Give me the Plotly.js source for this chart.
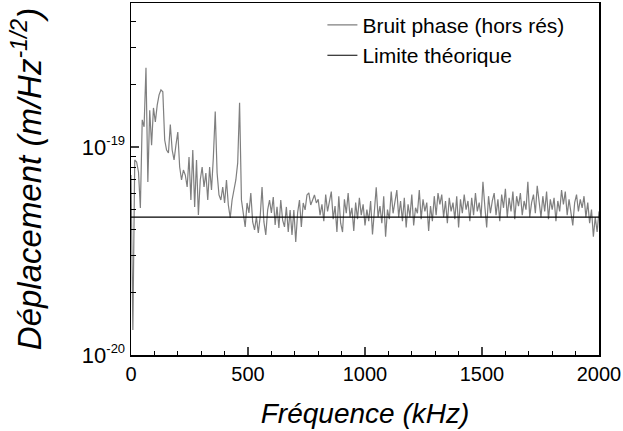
<!DOCTYPE html>
<html>
<head>
<meta charset="utf-8">
<script src="https://cdn.plot.ly/plotly-3.0.1.min.js"></script>
<style>html,body{margin:0;padding:0;background:#fff;}#chart{width:623px;height:431px;}</style>
</head>
<body>
<div id="chart"></div>
<script>
// Frequency grid: first bin and bin step (kHz)
const freqStart = 0;
const freqStep = 8;
// Displacement noise, in units of 1e-20 m/Hz^-1/2
const unit = 1e-20;
const phaseNoise = [
7.33,1.32,8.66,8.47,7.58,5.09,13.5,12.5,24.0,6.79,
15.0,10.2,15.4,13.2,15.9,17.8,18.8,18.4,10.8,9.67,
9.36,12.8,9.67,8.66,10.2,11.8,8.01,6.94,7.75,7.33,
6.42,8.95,5.56,9.67,5.15,8.66,4.71,6.94,8.01,6.42,
7.49,5.56,8.01,6.21,8.95,14.8,7.49,5.88,5.56,6.42,
5.38,6.94,5.26,4.56,5.56,6.21,6.94,8.38,16.3,5.56,
4.82,4.13,5.38,4.82,6.01,4.36,3.99,4.61,3.86,4.61,
6.42,4.36,3.78,4.98,5.56,4.82,5.75,4.22,5.15,4.08,
5.56,4.45,4.13,5.15,3.90,4.98,3.78,4.98,3.49,4.82,
5.56,4.13,5.38,4.98,5.88,6.01,5.26,5.56,5.88,5.38,
5.6,4.7,5.3,4.4,5.9,4.9,5.5,6.1,4.5,5.2,
3.9,5.8,4.3,3.9,5.6,4.8,6.0,4.6,5.1,3.95,
5.4,4.5,5.7,4.7,5.3,4.2,5.0,4.4,5.5,3.8,
4.9,6.4,4.6,5.2,4.3,5.8,3.7,5.0,4.5,6.1,
4.8,5.4,6.2,4.6,5.5,4.4,5.7,4.1,5.3,4.6,
5.9,4.2,5.1,4.8,6.2,4.5,5.6,4.9,5.4,3.95,
5.2,4.4,5.8,4.7,6.0,5.3,5.9,4.6,5.5,4.3,
5.7,4.9,5.4,4.5,5.8,4.1,5.6,4.8,5.9,5.0,
5.5,4.4,5.7,4.7,6.0,4.9,5.4,4.6,6.8,5.2,
4.1,5.8,4.8,5.5,6.0,4.7,5.6,4.4,5.9,5.1,
6.3,4.6,5.7,4.9,6.1,4.5,5.8,5.2,6.0,4.7,
5.5,5.0,6.8,4.6,5.4,5.9,4.8,6.5,5.3,4.6,
5.8,4.9,6.1,4.5,5.6,5.0,5.7,4.4,5.5,4.9,
6.2,5.3,6.1,4.7,5.6,4.8,4.2,5.4,5.9,4.9,
5.6,5.1,5.8,4.6,5.4,4.3,5.0,3.7,4.6,3.9,
4.9
];
const limitFreq = [0, 2000];
const limitValue = [4.6, 4.6];
const seriesNames = ['Bruit phase (hors rés)', 'Limite théorique'];
const yTickVals = [1e-20, 1e-19];
const yTickText = ['10<sup><span style="font-size:13px">-20</span></sup>', '10<sup><span style="font-size:13px">-19</span></sup>'];
const yMinorVals = [2e-20,3e-20,4e-20,5e-20,6e-20,7e-20,8e-20,9e-20,2e-19,3e-19,4e-19];
const xTickVals = [0, 500, 1000, 1500, 2000];

const FONT = '"Liberation Sans", Arial, sans-serif';
const traces = [
  {
    type: 'scatter', mode: 'lines', name: seriesNames[0],
    x0: freqStart, dx: freqStep,
    y: phaseNoise.map(v => v * unit),
    line: {color: '#7f7f7f', width: 1.2}
  },
  {
    type: 'scatter', mode: 'lines', name: seriesNames[1],
    x: limitFreq,
    y: limitValue.map(v => v * unit),
    line: {color: '#000000', width: 1.1}
  }
];
const layout = {
  width: 623, height: 431,
  margin: {l: 131, r: 24, t: 3, b: 76},
  paper_bgcolor: '#fff', plot_bgcolor: '#fff',
  font: {family: FONT, size: 20, color: '#000'},
  showlegend: true,
  legend: {
    x: 0.409, y: 0.995, xanchor: 'left', yanchor: 'top',
    bgcolor: 'rgba(0,0,0,0)', borderwidth: 0,
    font: {family: FONT, size: 21, color: '#000'},
    tracegroupgap: 0, itemwidth: 30
  },
  xaxis: {
    range: [0, 2000], tickvals: xTickVals, ticks: 'inside', ticklen: 8, tickwidth: 1.2,
    minor: {dtick: 100, ticks: 'inside', ticklen: 4, tickwidth: 1, tickcolor: '#000'},
    showline: true, linecolor: '#000', linewidth: 1.5, mirror: true,
    showgrid: false, zeroline: false,
    tickfont: {family: FONT, size: 20, color: '#000'},
    title: {text: '<i>Fréquence (kHz)</i>', font: {family: FONT, size: 28, color: '#000'}, standoff: 20}
  },
  yaxis: {
    type: 'log', range: [-20, -18.308],
    tickvals: yTickVals, ticktext: yTickText, ticks: 'inside', ticklen: 8, tickwidth: 1.2,
    minor: {tickvals: yMinorVals, ticks: 'inside', ticklen: 5, tickwidth: 1, tickcolor: '#000'},
    showline: true, linecolor: '#000', linewidth: 1.5, mirror: true,
    showgrid: false, zeroline: false,
    tickfont: {family: FONT, size: 22, color: '#000'},
    title: {text: '<i>Déplacement (m/Hz<sup>-1/2</sup>)</i>', font: {family: FONT, size: 33, color: '#000'}, standoff: 30}
  }
};
Plotly.newPlot('chart', traces, layout, {displayModeBar: false, staticPlot: true});
</script>
</body>
</html>
